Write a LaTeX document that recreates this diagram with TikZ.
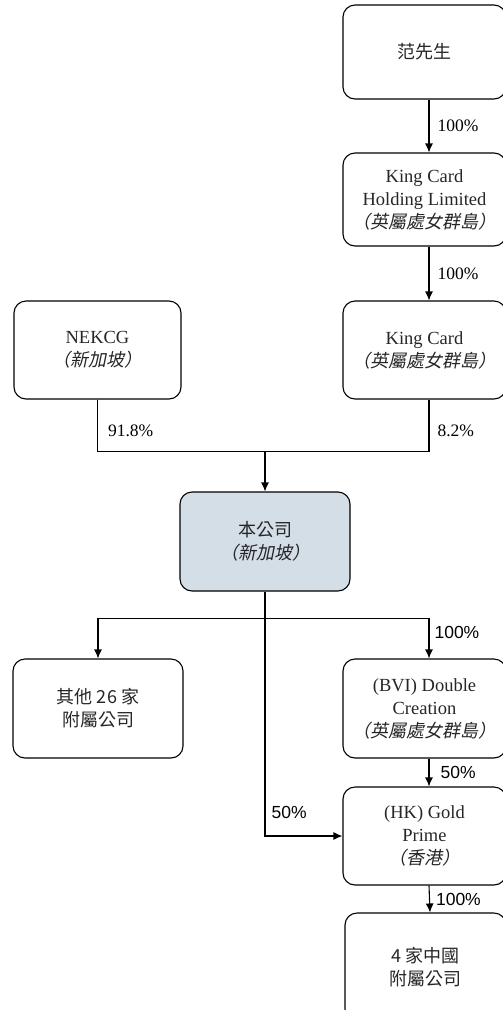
\documentclass[tikz,border=0pt]{standalone}
\usepackage{fontspec}
\setmainfont{Liberation Serif}
\setsansfont{Liberation Sans}
\newfontfamily\cjk{Noto Sans CJK TC}
\newfontfamily\cjksl[FakeSlant=0.2]{Noto Sans CJK TC}
\usetikzlibrary{arrows.meta, calc}
\definecolor{cofill}{HTML}{D3DEE7}
\newcommand{\rgn}[1]{{\cjksl\fontsize{18}{23}\selectfont （#1）}}
\newcommand{\zh}[1]{{\cjk\fontsize{18}{23}\selectfont #1}}

\begin{document}
\begin{tikzpicture}[x=1pt, y=-1pt]
      \tikzset{box/.style = {draw, rounded corners=12pt, line width=1.1pt, align=center,
          minimum width=163pt, minimum height=98pt, inner sep=0pt,
          font=\fontsize{18.5}{23}\selectfont, text=black!85}}
      \tikzset{edge/.style = {->, line width=1.1pt, > = {Latex[length=9pt,width=8pt]}}}
      \tikzset{pct/.style = {font=\rmfamily\fontsize{17.5}{22}\selectfont, inner sep=0pt}}
      \tikzset{spct/.style = {font=\sffamily\fontsize{17.5}{22}\selectfont, inner sep=0pt}}
      \useasboundingbox (0,0) rectangle (503,1010);

      \node[box, minimum height=94pt] (1) at (424.5, 52) {\zh{范先生}};
      \node[box, minimum height=93pt] (2) at (424.5, 199.5) {King Card\\Holding Limited\\\rgn{英屬處女群島}};
      \node[box, minimum width=167pt] (3) at (97.5, 350) {NEKCG\\\rgn{新加坡}};
      \node[box] (4) at (424.5, 350) {King Card\\\rgn{英屬處女群島}};
      \node[box, minimum width=170pt, minimum height=99pt, fill=cofill] (5) at (265, 541.5) {\zh{本公司}\\\rgn{新加坡}};
      \node[box, minimum width=170pt, minimum height=99pt] (6) at (98, 708.5) {\zh{其他 26 家}\\\zh{附屬公司}};
      \node[box, minimum height=99pt] (7) at (424.5, 708.5) {(BVI) Double\\Creation\\\rgn{英屬處女群島}};
      \node[box] (8) at (424.5, 836) {(HK) Gold\\Prime\\\rgn{香港}};
      \node[box, minimum width=161pt, minimum height=108pt] (9) at (425.5, 967) {\zh{4 家中國}\\\zh{附屬公司}};

      % upper chain
      \draw[edge] ([xshift=4.5pt]1.south) to node[midway,right=8pt,pct] {100\%} ([xshift=4.5pt]2.north);
      \draw[edge] ([xshift=4.5pt]2.south) to node[midway,right=8pt,pct] {100\%} ([xshift=4.5pt]4.north);

      % into the company
      \coordinate (j) at ($(5.north)+(0,-40)$);
      \draw[line width=1.1pt] (3.south) -- node[pos=0.6,right=10pt,pct] {91.8\%} (3.south |- j)
        -- ([xshift=4.5pt]4.south |- j) -- node[pos=0.4,right=8pt,pct] {8.2\%} ([xshift=4.5pt]4.south);
      \draw[edge] (j) -- (5);

      % below the company
      \coordinate (s) at ($(5.south)+(0,27)$);
      \draw[line width=1.1pt] (5.south) -- (s);
      \draw[edge] (s) -| (6.north);
      \draw[edge] (s) -| node[pos=0.68,right=5pt,spct] {100\%} ([xshift=4.5pt]7.north);
      \draw[edge] (s) |- node[pos=0.445,right=6pt,spct] {50\%} (8.west);
      \draw[edge] ([xshift=4.5pt]7.south) to node[midway,right=11pt,spct] {50\%} ([xshift=4.5pt]8.north);
      \draw[edge] ([xshift=4.5pt]8.south) to node[midway,right=6pt,spct] {100\%} ([xshift=4.5pt]9.north);
    \end{tikzpicture}
\end{document}
